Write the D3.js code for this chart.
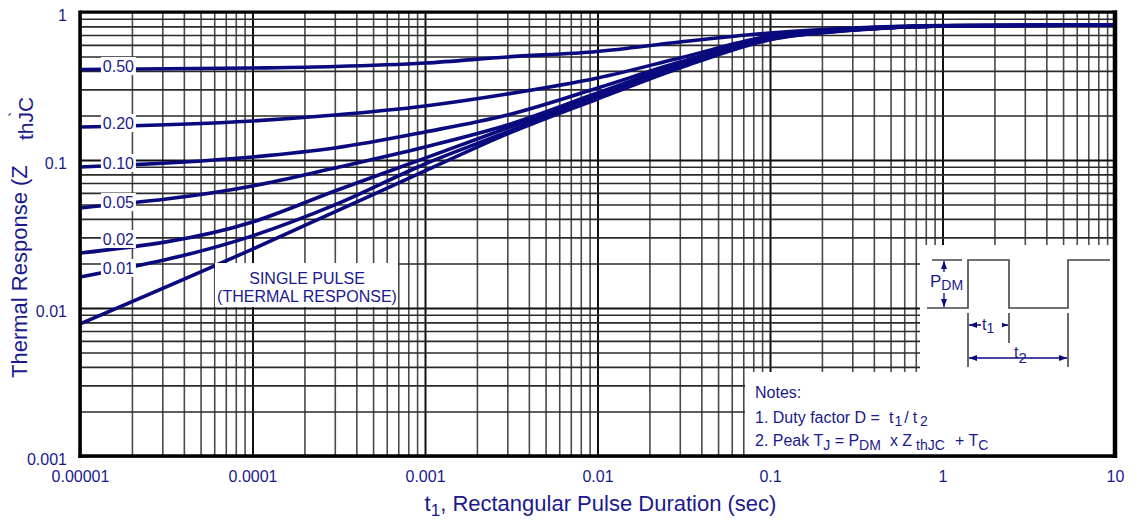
<!DOCTYPE html>
<html><head><meta charset="utf-8">
<script src="https://cdn.jsdelivr.net/npm/d3@7"></script>
<style>
body{margin:0;background:#fff;}
svg{display:block;font-family:"Liberation Sans",Arial,sans-serif;}
</style></head><body>
<svg id="c" width="1140" height="520"></svg>
<script>
// ---------- data ----------
const tValues = [1e-5, 1e-4, 3e-4, 1e-3, 3e-3, 1e-2, 3e-2, 0.1, 0.3, 1, 10];
const dutyLabels = ["0.50", "0.20", "0.10", "0.05", "0.02", "0.01"];
const d050 = [0.409, 0.418, 0.428, 0.452, 0.497, 0.541, 0.627, 0.721, 0.780, 0.811, 0.817];
const d020 = [0.167, 0.1835, 0.2014, 0.2317, 0.279, 0.358, 0.489, 0.688, 0.770, 0.806, 0.817];
const d010 = [0.0897, 0.1048, 0.1205, 0.1546, 0.2014, 0.3065, 0.459, 0.667, 0.760, 0.806, 0.817];
const d005 = [0.0474, 0.0667, 0.0883, 0.1224, 0.1723, 0.2835, 0.4454, 0.667, 0.760, 0.806, 0.817];
const d002 = [0.0235, 0.0381, 0.0617, 0.103, 0.1645, 0.2706, 0.4318, 0.660, 0.758, 0.806, 0.817];
const d001 = [0.0162, 0.0307, 0.0497, 0.094, 0.1546, 0.2665, 0.425, 0.655, 0.755, 0.806, 0.817];
const singlePulse = [0.0078, 0.025, 0.0446, 0.0843, 0.150, 0.2583, 0.418, 0.650, 0.752, 0.806, 0.817];
const labelT = 1.67e-5;
const labelAnchors = [0.4316, 0.1778, 0.0954, 0.052, 0.02925, 0.01864];
const xTickValues = [1e-5, 1e-4, 1e-3, 1e-2, 0.1, 1, 10];
const xTickLabels = ["0.00001", "0.0001", "0.001", "0.01", "0.1", "1", "10"];
const yTickValues = [0.001, 0.01, 0.1, 1];
const yTickLabels = ["0.001", "0.01", "0.1", "1"];
const singleLabelT = 2.07e-4, singleLabelV = 0.0143;

// ---------- setup ----------
const W = 1140, H = 520;
const mL = 80, mR = 1115, mT = 12, mB = 456;
const svg = d3.select("#c");
const x = d3.scaleLog().domain([1e-5, 10]).range([mL, mR]);
const y = d3.scaleLog().domain([0.001, 1]).range([mB, mT]);
const textCol = "#1a1a8c", curveCol = "#0a0a7e";

svg.append("rect").attr("width", W).attr("height", H).attr("fill", "#fff");

const isMajor = d => Math.abs(Math.log10(d) - Math.round(Math.log10(d))) < 1e-6;
const gridX = []; for (let e = -5; e <= 0; e++) for (let k = 1; k <= 9; k++) gridX.push(+(k * Math.pow(10, e)).toPrecision(3)); gridX.push(10);
const gridY = []; for (let e = -3; e <= -1; e++) for (let k = 1; k <= 9; k++) gridY.push(+(k * Math.pow(10, e)).toPrecision(3)); gridY.push(1);

const gx = svg.append("g").attr("transform", `translate(0,${mB})`)
  .call(d3.axisBottom(x).tickValues(gridX).tickSize(-(mB - mT)).tickFormat(""));
gx.select(".domain").remove();
gx.selectAll(".tick line").attr("stroke", d => isMajor(d) ? "#111" : "#4a4a4a").attr("stroke-width", d => isMajor(d) ? 2 : 1.6);

const gy = svg.append("g").attr("transform", `translate(${mL},0)`)
  .call(d3.axisLeft(y).tickValues(gridY).tickSize(-(mR - mL)).tickFormat(""));
gy.select(".domain").remove();
gy.selectAll(".tick line").attr("stroke", d => isMajor(d) ? "#111" : "#2a2a2a").attr("stroke-width", d => isMajor(d) ? 2 : 1.6);

// ---------- curves ----------
svg.append("clipPath").attr("id", "pc").append("rect")
  .attr("x", mL).attr("y", mT).attr("width", mR - mL).attr("height", mB - mT);
const series = [d050, d020, d010, d005, d002, d001, singlePulse];
const line = d3.line().x((d, i) => x(tValues[i])).y(d => y(d)).curve(d3.curveMonotoneX);
svg.append("g").attr("clip-path", "url(#pc)").selectAll("path").data(series).join("path")
  .attr("d", line).attr("fill", "none").attr("stroke", curveCol).attr("stroke-width", 3.6)
  .attr("stroke-linejoin", "round");

// ---------- duty labels ----------
const lg = svg.append("g").selectAll("g").data(dutyLabels).join("g")
  .attr("transform", (d, i) => `translate(${x(labelT)},${y(labelAnchors[i])})`);
lg.append("rect").attr("x", -17.5).attr("y", -9).attr("width", 35).attr("height", 18).attr("fill", "#fff");
lg.append("text").text(d => d).attr("text-anchor", "middle").attr("dy", "0.36em")
  .attr("font-size", 16).attr("fill", textCol);

// single pulse label
const sp = svg.append("g").attr("transform", `translate(${x(singleLabelT)},${y(singleLabelV)})`);
sp.append("rect").attr("x", -92).attr("y", -22).attr("width", 183).attr("height", 44).attr("fill", "#fff");
sp.append("text").attr("text-anchor", "middle").attr("y", -1).attr("font-size", 16).attr("fill", textCol).text("SINGLE PULSE");
sp.append("text").attr("text-anchor", "middle").attr("y", 17).attr("font-size", 16).attr("fill", textCol).text("(THERMAL RESPONSE)");

// ---------- inset boxes ----------
svg.append("rect").attr("x", 920).attr("y", 245).attr("width", mR - 920).attr("height", mB - 245).attr("fill", "#fff");
svg.append("rect").attr("x", 745).attr("y", 372).attr("width", mR - 745).attr("height", mB - 372).attr("fill", "#fff");

// ---------- frame ----------
const fr = svg.append("g").attr("stroke", "#000");
fr.append("line").attr("x1", mL).attr("x2", mL).attr("y1", mT - 1.5).attr("y2", mB + 2).attr("stroke-width", 3.5);
fr.append("line").attr("x1", mL).attr("x2", mR + 2).attr("y1", mT).attr("y2", mT).attr("stroke-width", 3);
fr.append("line").attr("x1", mR).attr("x2", mR).attr("y1", mT - 1.5).attr("y2", mB + 2).attr("stroke-width", 4.5);
fr.append("line").attr("x1", mL - 1.5).attr("x2", mR + 2).attr("y1", mB).attr("y2", mB).attr("stroke-width", 3.5);

// ---------- axes labels ----------
const ay = svg.append("g").attr("transform", `translate(${mL},0)`)
  .call(d3.axisLeft(y).tickValues(yTickValues).tickSize(0).tickPadding(13).tickFormat((d, i) => yTickLabels[i]));
ay.select(".domain").remove();
ay.selectAll("text").attr("font-size", 16).attr("fill", textCol).attr("font-family", null).attr("dy", "0.5em");

const ax = svg.append("g").attr("transform", `translate(0,${mB})`)
  .call(d3.axisBottom(x).tickValues(xTickValues).tickSize(0).tickPadding(15).tickFormat((d, i) => xTickLabels[i]));
ax.select(".domain").remove();
ax.selectAll("text").attr("font-size", 16).attr("fill", textCol).attr("font-family", null);

// x title
const xt = svg.append("text").attr("x", (mL + mR) / 2 + 3).attr("y", 511).attr("text-anchor", "middle")
  .attr("font-size", 22).attr("fill", textCol);
xt.append("tspan").text("t");
xt.append("tspan").attr("font-size", 17).attr("dy", 5).text("1");
xt.append("tspan").attr("dy", -5).text(", Rectangular Pulse Duration (sec)");

// y title
svg.append("text").attr("transform", "translate(27,378) rotate(-90)").attr("font-size", 22).attr("fill", textCol)
  .text("Thermal Response (Z");
svg.append("text").attr("transform", "translate(33,140) rotate(-90)").attr("font-size", 21).attr("fill", textCol)
  .text("thJC");
svg.append("text").attr("transform", "translate(21,117) rotate(-90)").attr("font-size", 16).attr("fill", textCol)
  .text("`");

// ---------- notes ----------
const nf = 16;
svg.append("text").attr("x", 755).attr("y", 398).attr("font-size", nf).attr("fill", textCol).text("Notes:");
const n1 = svg.append("text").attr("x", 755).attr("y", 423).attr("font-size", nf).attr("fill", textCol);
n1.append("tspan").text("1. Duty factor D =");
n1.append("tspan").attr("dx", 9).text("t");
n1.append("tspan").attr("dx", 1).attr("dy", 3).attr("font-size", 14).text("1");
n1.append("tspan").attr("dx", 2).attr("dy", -3).text("/");
n1.append("tspan").attr("dx", 4).text("t");
n1.append("tspan").attr("dx", 3).attr("dy", 3).attr("font-size", 14).text("2");
const n2 = svg.append("text").attr("x", 755).attr("y", 446).attr("font-size", nf).attr("fill", textCol);
n2.append("tspan").text("2. Peak T");
n2.append("tspan").attr("dy", 4).attr("font-size", 14).text("J");
n2.append("tspan").attr("dy", -4).text(" = P");
n2.append("tspan").attr("dy", 4).attr("font-size", 14).text("DM");
n2.append("tspan").attr("dy", -4).attr("dx", 9).text("x Z");
n2.append("tspan").attr("dy", 4).attr("dx", 4).attr("font-size", 14).text("thJC");
n2.append("tspan").attr("dy", -4).attr("dx", 10).text("+ T");
n2.append("tspan").attr("dy", 4).attr("font-size", 14).text("C");

// ---------- pulse diagram ----------
const pd = svg.append("g");
const gray = "#444";
pd.append("path").attr("fill", "none").attr("stroke", gray).attr("stroke-width", 1.6)
  .attr("d", "M927,308 H968 V260 H1009 V308 H1068 V260 H1110");
pd.append("path").attr("fill", "none").attr("stroke", gray).attr("stroke-width", 1.6)
  .attr("d", "M932,260 H962 M968,313 V367 M1009,313 V343 M1068,313 V367");
function arrow(x1, y1, x2, y2) {
  const a = Math.atan2(y2 - y1, x2 - x1), L = 8, w = 3;
  const bx = x2 - L * Math.cos(a), by = y2 - L * Math.sin(a);
  const px = -Math.sin(a) * w, py = Math.cos(a) * w;
  pd.append("path").attr("fill", curveCol)
    .attr("d", `M${x2},${y2} L${bx + px},${by + py} L${bx - px},${by - py} Z`);
}
pd.append("line").attr("x1", 944).attr("x2", 944).attr("y1", 261).attr("y2", 307).attr("stroke", curveCol).attr("stroke-width", 1.3);
arrow(944, 284, 944, 261); arrow(944, 284, 944, 307);
pd.append("rect").attr("x", 929).attr("y", 272).attr("width", 36).attr("height", 21).attr("fill", "#fff");
const pt = pd.append("text").attr("x", 930).attr("y", 287).attr("font-size", 17).attr("fill", textCol);
pt.append("tspan").text("P");
pt.append("tspan").attr("dy", 3).attr("font-size", 14).text("DM");
pd.append("line").attr("x1", 969).attr("x2", 1008).attr("y1", 325).attr("y2", 325).attr("stroke", curveCol).attr("stroke-width", 1.3);
arrow(988, 325, 969, 325); arrow(988, 325, 1008, 325);
pd.append("rect").attr("x", 981).attr("y", 316).attr("width", 21).attr("height", 17).attr("fill", "#fff");
const t1 = pd.append("text").attr("x", 982).attr("y", 330).attr("font-size", 16).attr("fill", textCol);
t1.append("tspan").text("t"); t1.append("tspan").attr("dy", 3).attr("font-size", 14).text("1");
pd.append("line").attr("x1", 969).attr("x2", 1067).attr("y1", 358).attr("y2", 358).attr("stroke", curveCol).attr("stroke-width", 1.3);
arrow(1018, 358, 969, 358); arrow(1018, 358, 1067, 358);
pd.append("rect").attr("x", 1013).attr("y", 347).attr("width", 18).attr("height", 8).attr("fill", "#fff");
const t2 = pd.append("text").attr("x", 1014).attr("y", 358).attr("font-size", 16).attr("fill", textCol);
t2.append("tspan").text("t"); t2.append("tspan").attr("dy", 5).attr("font-size", 15).text("2");
</script>
</body></html>
